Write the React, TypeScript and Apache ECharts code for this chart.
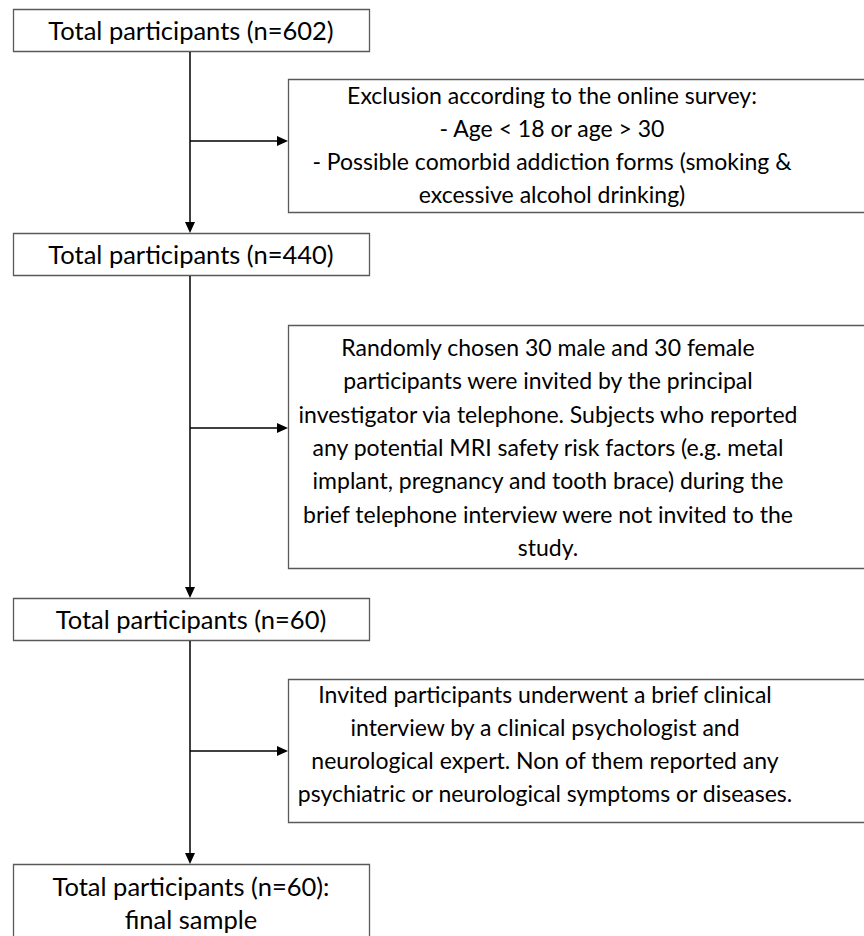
import React, { useEffect, useRef } from "react";
import * as echarts from "echarts";

// ---- content ----
const mainBoxTexts: string[][] = [
  ["Total participants (n=602)"],
  ["Total participants (n=440)"],
  ["Total participants (n=60)"],
  ["Total participants (n=60):", "final sample"],
];

const sideBoxTexts: string[][] = [
  [
    "Exclusion according to the online survey:",
    "- Age < 18 or age > 30",
    "- Possible comorbid addiction forms (smoking &",
    "excessive alcohol drinking)",
  ],
  [
    "Randomly chosen 30 male and 30 female",
    "participants were invited by the principal",
    "investigator via telephone. Subjects who reported",
    "any potential MRI safety risk factors (e.g. metal",
    "implant, pregnancy and tooth brace) during the",
    "brief telephone interview were not invited to the",
    "study.",
  ],
  [
    "Invited participants underwent a brief clinical",
    "interview by a clinical psychologist and",
    "neurological expert. Non of them reported any",
    "psychiatric or neurological symptoms or diseases.",
  ],
];

// ---- layout ----
const FONT = "Lato, 'Open Sans', sans-serif";
const SIDE_FONT_SIZE = 23;
const MAIN_FONT_SIZE = 25.5;
const LINE_H = 33;
const MAIN_X = 13;
const MAIN_W = 356;
const MAIN_TOPS = [9, 233, 598, 864];
const MAIN_HEIGHTS = [42, 42, 42, 110];
const MAIN_TEXT_Y = [30, 254, 619, 886];
const SIDE_X = 288;
const SIDE_W = 600;
const SIDE_TOPS = [79, 325, 679];
const SIDE_BOTTOMS = [212, 568, 822];
const SIDE_TEXT_CX = [552, 548, 545];
const SIDE_TEXT_Y0 = [95, 347, 694];
const SIDE_LINE_H = [33, 33.3, 33];
const SPINE_X = 190;
const BRANCH_Y = [141, 428, 751];
const BORDER = "#5a5a5a";
const INK = "#000000";

function arrowDown(x: number, y: number) {
  return {
    type: "polygon",
    shape: { points: [[x - 5, y - 11], [x + 5, y - 11], [x, y]] },
    style: { fill: INK },
  };
}
function arrowRight(x: number, y: number) {
  return {
    type: "polygon",
    shape: { points: [[x - 11, y - 5], [x - 11, y + 5], [x, y]] },
    style: { fill: INK },
  };
}

export default function App() {
  const ref = useRef<HTMLDivElement>(null);
  useEffect(() => {
    if (!ref.current) return;
    const chart = echarts.init(ref.current, undefined, { renderer: "svg" });
    const elements: any[] = [];

    mainBoxTexts.forEach((lines, i) => {
      elements.push({
        type: "rect",
        shape: { x: MAIN_X + 0.5, y: MAIN_TOPS[i] + 0.5, width: MAIN_W, height: MAIN_HEIGHTS[i] },
        style: { fill: "#fff", stroke: BORDER, lineWidth: 1.3 },
      });
      lines.forEach((t, j) => {
        elements.push({
          type: "text",
          x: MAIN_X + MAIN_W / 2,
          y: MAIN_TEXT_Y[i] + j * LINE_H,
          style: {
            text: t,
            fill: INK,
            font: `${MAIN_FONT_SIZE}px ${FONT}`,
            textAlign: "center",
            textVerticalAlign: "middle",
          },
        });
      });
    });

    sideBoxTexts.forEach((lines, i) => {
      elements.push({
        type: "rect",
        shape: { x: SIDE_X + 0.5, y: SIDE_TOPS[i] + 0.5, width: SIDE_W, height: SIDE_BOTTOMS[i] - SIDE_TOPS[i] },
        style: { fill: "#fff", stroke: BORDER, lineWidth: 1.3 },
      });
      lines.forEach((t, j) => {
        elements.push({
          type: "text",
          x: SIDE_TEXT_CX[i],
          y: SIDE_TEXT_Y0[i] + j * SIDE_LINE_H[i],
          style: {
            text: t,
            fill: INK,
            font: `${SIDE_FONT_SIZE}px ${FONT}`,
            textAlign: "center",
            textVerticalAlign: "middle",
          },
        });
      });
    });

    // spine segments with down arrows, and branch arrows
    for (let i = 0; i < 3; i++) {
      const y1 = MAIN_TOPS[i] + MAIN_HEIGHTS[i] + 1;
      const y2 = MAIN_TOPS[i + 1];
      elements.push({
        type: "line",
        shape: { x1: SPINE_X, y1, x2: SPINE_X, y2: y2 - 8 },
        style: { stroke: INK, lineWidth: 1.5 },
      });
      elements.push(arrowDown(SPINE_X, y2));
      elements.push({
        type: "line",
        shape: { x1: SPINE_X, y1: BRANCH_Y[i], x2: SIDE_X - 8, y2: BRANCH_Y[i] },
        style: { stroke: INK, lineWidth: 1.5 },
      });
      elements.push(arrowRight(SIDE_X, BRANCH_Y[i]));
    }

    chart.setOption({
      animation: false,
      backgroundColor: "#ffffff",
      graphic: { elements },
    });
    return () => chart.dispose();
  }, []);
  return (
    <div
      ref={ref}
      style={{ position: "fixed", left: 0, top: 0, width: 864, height: 936, overflow: "hidden" }}
    />
  );
}
